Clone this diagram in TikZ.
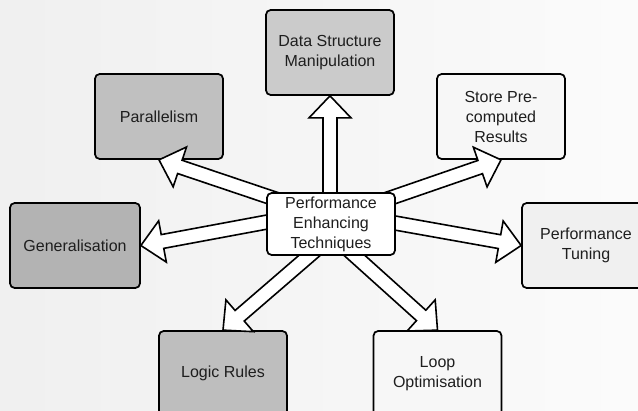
\documentclass[tikz,border=0pt]{standalone}
\usepackage{fontspec}
\setmainfont{Liberation Sans}
\usetikzlibrary{calc}
\definecolor{fGen}{HTML}{B3B3B3}
\definecolor{fPar}{HTML}{C0C0C0}
\definecolor{fLog}{HTML}{BEBEBE}
\definecolor{fDS}{HTML}{CBCBCB}
\definecolor{fSto}{HTML}{F7F7F7}
\definecolor{fTun}{HTML}{F0F0F0}
\definecolor{fLoop}{HTML}{F7F7F7}
\definecolor{txt}{HTML}{1E1E1E}
\pgfdeclarelayer{bg}
\pgfdeclarelayer{arr}
\pgfdeclarelayer{top}
\pgfsetlayers{bg,main,arr,top}
\tikzset{
  box/.style={draw=black, line width=1.3pt, rounded corners=3.5pt,
    minimum width=96pt, minimum height=63.75pt, align=center, inner sep=0pt,
    text=txt, font=\fontsize{12}{15}\selectfont},
  blockarrow/.style={draw=black, fill=white, line width=1.2pt, line join=miter}
}
\newcommand\blockarr[2]{%
  \path ($(#2)!16.5pt!(#1)$) coordinate (hb);
  \draw[blockarrow] ($(#1)!5.25pt!90:(#2)$) -- ($(hb)!5.25pt!90:(#2)$)
    -- ($(hb)!15.75pt!90:(#2)$) -- (#2) -- ($(hb)!15.75pt!-90:(#2)$)
    -- ($(hb)!5.25pt!-90:(#2)$) -- ($(#1)!5.25pt!-90:(#2)$) -- cycle;}
\begin{document}
\begin{tikzpicture}[x=0.75pt, y=-0.75pt]
\useasboundingbox (0,0) rectangle (638,410);
\begin{pgfonlayer}{bg}
  \fill[left color=black!6, right color=black!1.5] (0,0) rectangle (638,410);
\end{pgfonlayer}
\clip (0,0) rectangle (638,410);
% outer boxes
\node[box, fill=fDS] (ds) at (330,52.5) {Data Structure\\Manipulation};
\node[box, fill=fPar] (par) at (159,116.5) {Parallelism};
\node[box, fill=fSto] (sto) at (501,116.5) {Store Pre-\\computed\\Results};
\node[box, fill=fGen, minimum width=97.5pt] (gen) at (75,245.5) {Generalisation};
\node[box, fill=fTun] (tun) at (586,245.5) {Performance\\Tuning};
\node[box, fill=fLog] (log) at (223,373.5) {Logic Rules};
\node[box, fill=fLoop] (loop) at (437.5,373.5) {Loop\\Optimisation};
% centre
\begin{pgfonlayer}{top}
\node[box, fill=white, minimum height=46.5pt] (c) at (331,224)
  {Performance\\Enhancing\\Techniques};
\end{pgfonlayer}
% start points inside the centre box
\coordinate (sDS) at (ds.south |- c.center);
\coordinate (sPar) at ($(c.center)+(-41,-20)$);
\coordinate (sSto) at ($(c.center)+(41,-19.6)$);
\coordinate (sGen) at ($(c.center)+(-46,-5.3)$);
\coordinate (sTun) at ($(c.center)+(46,-4.2)$);
\coordinate (sLog) at ($(c.center)+(-11,22.4)$);
\coordinate (sLoop) at ($(c.center)+(13,22)$);
\begin{pgfonlayer}{arr}
\blockarr{sDS}{ds.south}
\blockarr{sPar}{par.south}
\blockarr{sSto}{sto.south}
\blockarr{sGen}{gen.east}
\blockarr{sTun}{tun.west}
\blockarr{sLog}{log.north}
\blockarr{sLoop}{loop.north}
\end{pgfonlayer}
\end{tikzpicture}
\end{document}
